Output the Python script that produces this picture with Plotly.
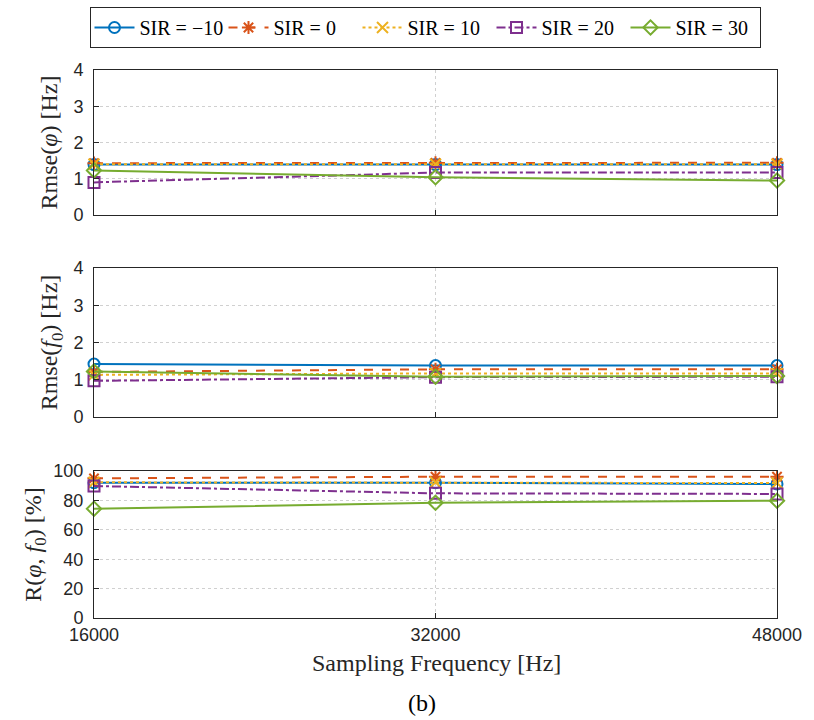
import plotly.graph_objects as go
from plotly.subplots import make_subplots

fs = [16000, 32000, 48000]
x_ticks = [16000, 32000, 48000]
x_tick_labels = ["16000", "32000", "48000"]

series_names = ["SIR = −10", "SIR = 0", "SIR = 10", "SIR = 20", "SIR = 30"]

rmse_phi = {
    "SIR = −10": [1.39, 1.39, 1.39],
    "SIR = 0": [1.43, 1.44, 1.44],
    "SIR = 10": [1.40, 1.40, 1.40],
    "SIR = 20": [0.90, 1.17, 1.17],
    "SIR = 30": [1.23, 1.04, 0.95],
}
rmse_f0 = {
    "SIR = −10": [1.42, 1.38, 1.38],
    "SIR = 0": [1.21, 1.28, 1.28],
    "SIR = 10": [1.13, 1.17, 1.17],
    "SIR = 20": [0.97, 1.07, 1.08],
    "SIR = 30": [1.22, 1.08, 1.10],
}
corr = {
    "SIR = −10": [92.0, 92.0, 91.2],
    "SIR = 0": [95.0, 96.1, 96.1],
    "SIR = 10": [92.3, 92.3, 91.8],
    "SIR = 20": [89.8, 84.8, 84.4],
    "SIR = 30": [74.3, 78.4, 79.8],
}

colors = ["#0072BD", "#D95319", "#EDB120", "#7E2F8E", "#77AC30"]
dashes = ["solid", "dash", "dot", "dashdot", "solid"]
symbols = ["circle-open", "asterisk-open", "x-thin-open", "square-open", "diamond-open"]

fig = make_subplots(rows=3, cols=1, shared_xaxes=False)

for row, data in enumerate([rmse_phi, rmse_f0, corr], start=1):
    for i, name in enumerate(series_names):
        fig.add_trace(
            go.Scatter(
                x=fs, y=data[name], name=name, mode="lines+markers",
                line=dict(color=colors[i], width=2, dash=dashes[i]),
                marker=dict(symbol=symbols[i], size=11, color=colors[i],
                            line=dict(color=colors[i], width=2)),
                showlegend=(row == 1), legendgroup=name, cliponaxis=False,
            ),
            row=row, col=1,
        )

H = 548.0
def dom(top, bottom):
    return [1 - (bottom - 70) / H, 1 - (top - 70) / H]

axis_common = dict(
    showline=True, mirror=True, linecolor="#262626", linewidth=1,
    ticks="inside", ticklen=5, tickcolor="#262626",
    showgrid=True, gridcolor="#d0d0d0", griddash="dot", gridwidth=1,
    zeroline=False,
    tickfont=dict(family="Liberation Sans", size=18, color="#262626"),
)
serif = "Liberation Serif"

for k, (top, bottom) in enumerate([(70, 215), (268, 417), (471, 618)], start=1):
    fig.update_xaxes(
        range=[16000, 48000], tickvals=x_ticks, ticktext=x_tick_labels,
        showticklabels=(k == 3), domain=[0, 1], **axis_common, row=k, col=1)
    fig.update_yaxes(domain=dom(top, bottom), ticklabelstandoff=6, **axis_common, row=k, col=1)

tfont = dict(family=serif, size=24, color="#262626")
fig.update_yaxes(range=[0, 4], tickvals=[0, 1, 2, 3, 4], row=1, col=1,
                 title=dict(text="Rmse(<i>φ</i>) [Hz]", font=tfont, standoff=8))
fig.update_yaxes(range=[0, 4], tickvals=[0, 1, 2, 3, 4], row=2, col=1,
                 title=dict(text="Rmse(<i>f</i><sub>0</sub>) [Hz]", font=tfont, standoff=8))
fig.update_yaxes(range=[0, 100], tickvals=[0, 20, 40, 60, 80, 100], row=3, col=1,
                 title=dict(text="R(<i>φ</i>, <i>f</i><sub>0</sub>) [%]", font=tfont, standoff=4))

fig.add_annotation(text="Sampling Frequency [Hz]", xref="paper", yref="paper",
                   x=(440 - 94) / 690, y=(618 - 663) / H, showarrow=False,
                   font=tfont, yanchor="middle")
fig.add_annotation(text="(b)", xref="paper", yref="paper",
                   x=(425 - 94) / 690, y=(618 - 703) / H, showarrow=False,
                   font=dict(family=serif, size=24, color="#000000"), yanchor="middle")

fig.update_layout(
    width=814, height=720,
    margin=dict(l=94, r=30, t=70, b=102),
    paper_bgcolor="white", plot_bgcolor="white",
    legend=dict(
        orientation="h", xref="container", yref="container",
        x=425 / 814, xanchor="center",
        y=1 - 7 / 720, yanchor="top",
        bordercolor="#262626", borderwidth=1, bgcolor="white",
        font=dict(family=serif, size=20, color="#000000"),
        itemwidth=40, entrywidth=79, entrywidthmode="pixels",
        tracegroupgap=0,
    ),
    showlegend=True,
)

fig.write_html("out.html")
